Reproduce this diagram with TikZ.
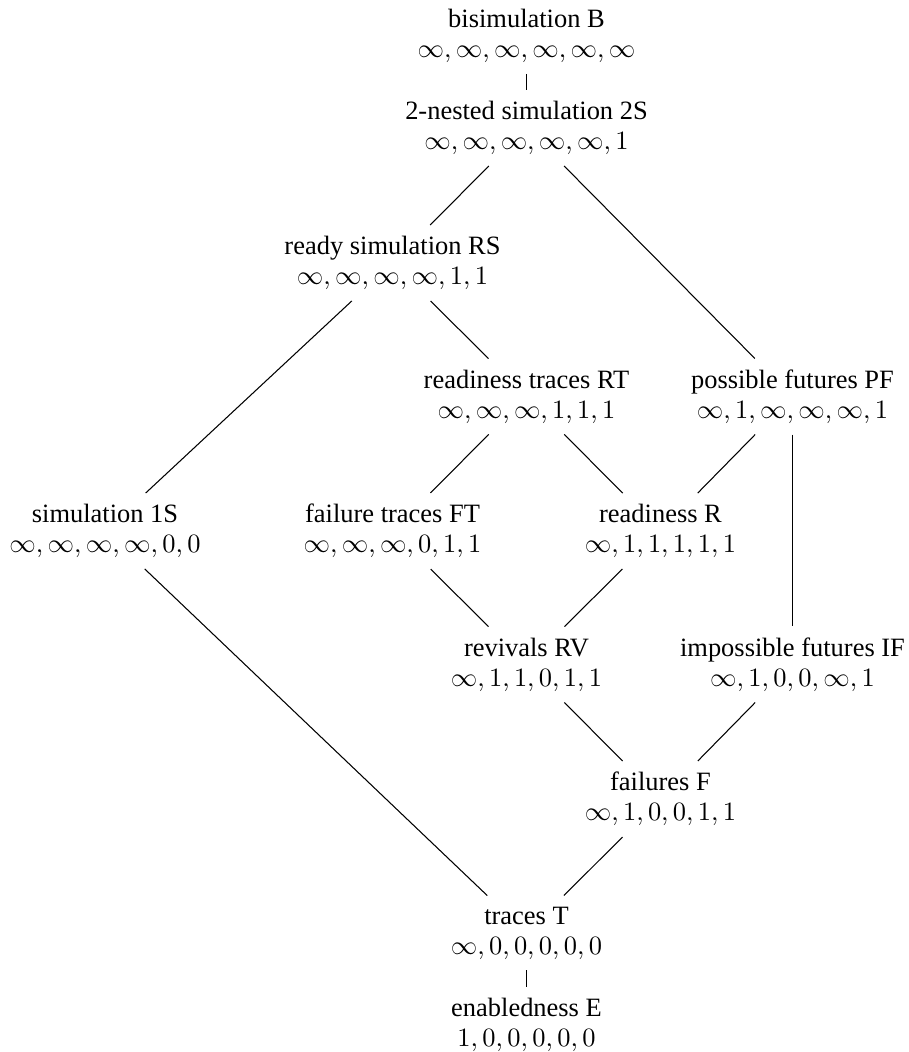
\documentclass[tikz,border=0pt]{standalone}
\usepackage[no-math]{fontspec}
\setmainfont{Liberation Serif}
\begin{document}
\begin{tikzpicture}[x=0.378pt, y=-0.378pt,
  eq/.style={align=center, inner sep=4pt, font=\fontsize{10}{11.4}\selectfont},
  link/.style={line width=0.4pt}]
\useasboundingbox (0,0) rectangle (909,1052);
% lattice of equivalences, each with its parameter vector
\node[eq] (B)  at (526.5,36)  {bisimulation B\\ $\infty,\infty,\infty,\infty,\infty,\infty$};
\node[eq] (S2) at (526.5,128) {2-nested simulation 2S\\ $\infty,\infty,\infty,\infty,\infty,1$};
\node[eq] (RS) at (392.5,263) {ready simulation RS\\ $\infty,\infty,\infty,\infty,1,1$};
\node[eq] (RT) at (526.5,396.5) {readiness traces RT\\ $\infty,\infty,\infty,1,1,1$};
\node[eq] (PF) at (792.5,396.5) {possible futures PF\\ $\infty,1,\infty,\infty,\infty,1$};
\node[eq] (S1) at (105,531) {simulation 1S\\ $\infty,\infty,\infty,\infty,0,0$};
\node[eq] (FT) at (392.5,531) {failure traces FT\\ $\infty,\infty,\infty,0,1,1$};
\node[eq] (R)  at (660.5,531) {readiness R\\ $\infty,1,1,1,1,1$};
\node[eq] (RV) at (526.5,664.5) {revivals RV\\ $\infty,1,1,0,1,1$};
\node[eq] (IF) at (792.5,664.5) {impossible futures IF\\ $\infty,1,0,0,\infty,1$};
\node[eq] (F)  at (660.5,799) {failures F\\ $\infty,1,0,0,1,1$};
\node[eq] (T)  at (526.5,933) {traces T\\ $\infty,0,0,0,0,0$};
\node[eq] (E)  at (526.5,1025) {enabledness E\\ $1,0,0,0,0,0$};
% order relations
\draw[link] (B) -- (S2);
\draw[link] (S2) -- (RS);
\draw[link] (S2) -- (PF);
\draw[link] (RS) -- (S1);
\draw[link] (RS) -- (RT);
\draw[link] (RT) -- (FT);
\draw[link] (RT) -- (R);
\draw[link] (PF) -- (R);
\draw[link] (PF) -- (IF);
\draw[link] (FT) -- (RV);
\draw[link] (R) -- (RV);
\draw[link] (RV) -- (F);
\draw[link] (IF) -- (F);
\draw[link] (S1) -- (T);
\draw[link] (F) -- (T);
\draw[link] (T) -- (E);
\end{tikzpicture}
\end{document}
